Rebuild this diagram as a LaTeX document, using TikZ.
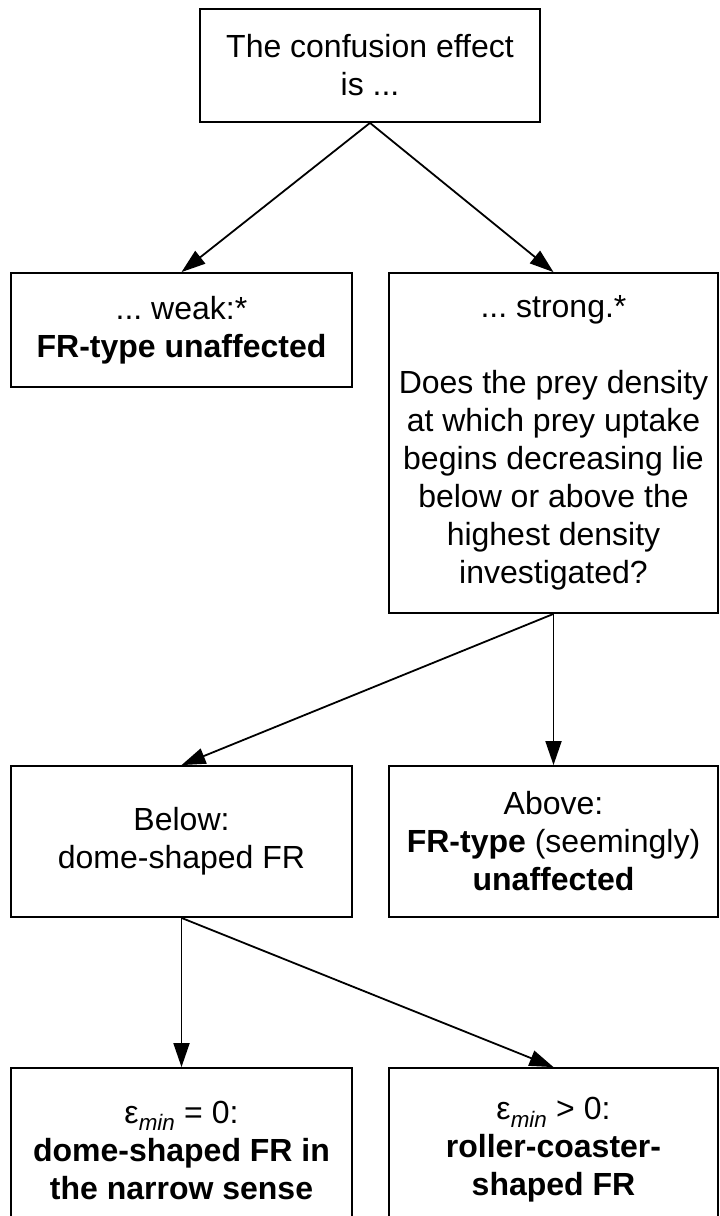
\documentclass[tikz,border=0pt]{standalone}
\usepackage{fontspec}
\setmainfont{Liberation Sans}
\usetikzlibrary{arrows.meta}
\frenchspacing

\begin{document}
\begin{tikzpicture}[x=1pt,y=-1pt,
  box/.style={draw,line width=1.8pt,align=center,inner sep=0pt,
    font=\fontsize{32}{38}\selectfont},
  arr/.style={-{Triangle[length=24pt,width=16pt]},line width=1.8pt}]
\useasboundingbox (0,0) rectangle (720,1216);
% first question
\node[box,minimum width=340,minimum height=113] (conf) at (370,65.5) {The confusion effect\\is ...};
% second row
\node[box,minimum width=341,minimum height=114] (weak) at (181.5,330) {... weak:*\\\textbf{FR-type unaffected}};
\node[box,minimum width=329,minimum height=340] (strong) at (553.5,443) {... strong.*\\[38pt]Does the prey density\\at which prey uptake\\begins decreasing lie\\below or above the\\highest density\\investigated?};
% third row
\node[box,minimum width=341,minimum height=151] (below) at (181.5,841.5) {Below:\\dome-shaped FR};
\node[box,minimum width=329,minimum height=151] (above) at (553.5,841.5) {Above:\\\textbf{FR-type} (seemingly)\\\textbf{unaffected}};
% last row, cut at the bottom
\node[box,minimum width=341,minimum height=164] (eqz) at (181.5,1150) {ε\textsubscript{\itshape min} = 0:\\\textbf{dome-shaped FR in}\\\textbf{the narrow sense}};
\node[box,minimum width=329,minimum height=164] (gtz) at (553.5,1150) {ε\textsubscript{\itshape min} > 0:\\\textbf{roller-coaster-}\\\textbf{shaped FR}};
\draw[arr] (conf.south) -- (weak.north);
\draw[arr] (conf.south) -- (strong.north);
\draw[arr] (strong.south) -- (below.north);
\draw[arr] (strong.south) -- (above.north);
\draw[arr] (below.south) -- (eqz.north);
\draw[arr] (below.south) -- (gtz.north);
\end{tikzpicture}
\end{document}
